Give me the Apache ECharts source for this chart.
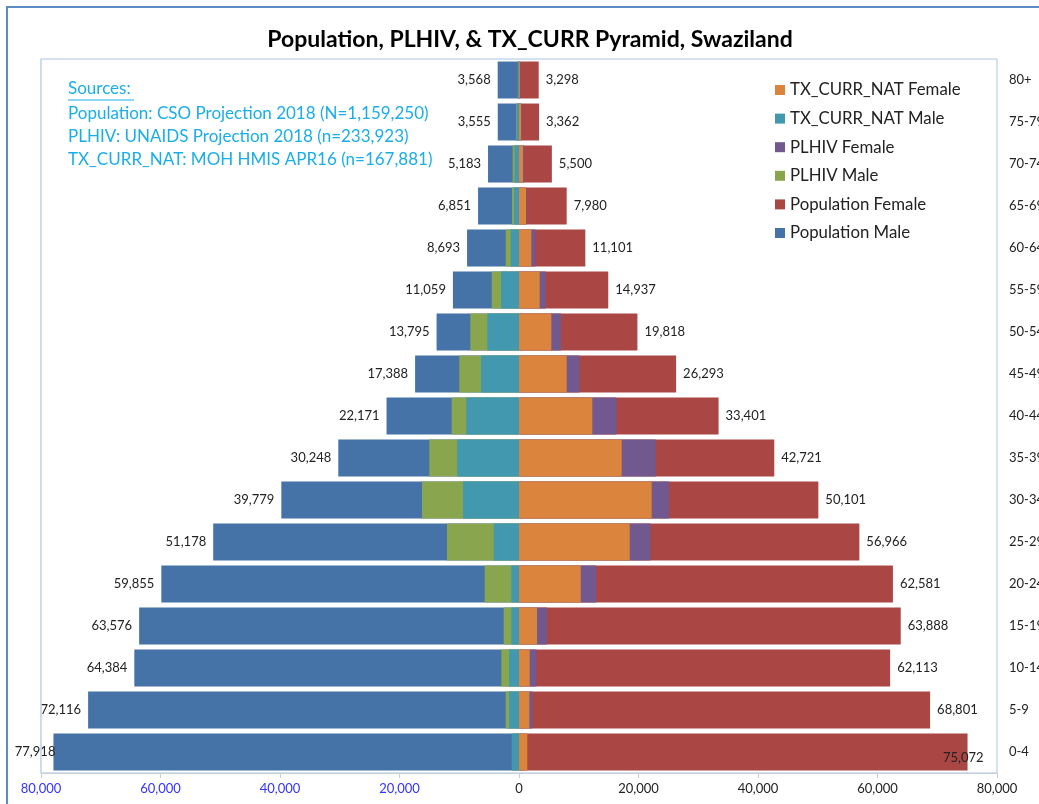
<!DOCTYPE html>
<html>
<head>
<meta charset="utf-8">
<script src="https://cdn.jsdelivr.net/npm/echarts@6/dist/echarts.min.js"></script>
<style>
  html, body { margin: 0; padding: 0; background: #fff; }
  #main { width: 1039px; height: 804px; }
</style>
</head>
<body>
<div id="main"></div>
<script>
// age groups, bottom to top
const ages = ["0-4", "5-9", "10-14", "15-19", "20-24", "25-29", "30-34", "35-39", "40-44",
  "45-49", "50-54", "55-59", "60-64", "65-69", "70-74", "75-79", "80+"];
const popMale = [77918, 72116, 64384, 63576, 59855, 51178, 39779, 30248, 22171,
  17388, 13795, 11059, 8693, 6851, 5183, 3555, 3568];
const popFemale = [75072, 68801, 62113, 63888, 62581, 56966, 50101, 42721, 33401,
  26293, 19818, 14937, 11101, 7980, 5500, 3362, 3298];
// PLHIV / TX_CURR estimated from the bars
const plhivMale = [1000, 2230, 2960, 2560, 5750, 12050, 16240, 15010, 11270,
  9990, 8150, 4570, 2230, 1170, 1070, 500, 200];
const plhivFemale = [1200, 2230, 2900, 4690, 12890, 21980, 25110, 22880, 16290,
  10090, 7030, 4460, 2735, 1280, 840, 400, 200];
const txMale = [1220, 1670, 1670, 1280, 1280, 4240, 9370, 10330, 8820,
  6360, 5300, 3010, 1390, 840, 730, 420, 150];
const txFemale = [1390, 1730, 1790, 3010, 10330, 18530, 22210, 17190, 12270,
  7980, 5410, 3460, 2065, 1170, 670, 350, 150];
const xTicks = [-80000, -60000, -40000, -20000, 0, 20000, 40000, 60000, 80000];

const FONT = "Lato";
const colors = {
  popMale: "#4572A7", popFemale: "#AA4643",
  plhivMale: "#89A54E", plhivFemale: "#71588F",
  txMale: "#4198AF", txFemale: "#DB843D"
};

const fmt = v => Math.abs(v).toLocaleString("en-US");

function barSeries(name, values, color, sign) {
  return {
    name: name,
    type: "bar",
    barWidth: "88%",
    barGap: "-100%",
    itemStyle: { color: color },
    data: values.map(v => v * sign)
  };
}

const sMale = barSeries("Population Male", popMale, colors.popMale, -1);
sMale.label = {
  show: true, position: "left", distance: 7,
  fontFamily: FONT, fontSize: 13, color: "#222",
  formatter: p => fmt(p.value)
};
// the widest bar: Excel pulls its label over the bar end
sMale.data[0] = { value: sMale.data[0], label: { distance: -2 } };

const sFemale = barSeries("Population Female", popFemale, colors.popFemale, 1);
sFemale.label = {
  show: true, position: "right", distance: 7,
  fontFamily: FONT, fontSize: 13, color: "#222",
  formatter: p => fmt(p.value)
};
sFemale.data[0] = { value: sFemale.data[0], label: { position: "insideRight", distance: 0, offset: [16, 6] } };

const chart = echarts.init(document.getElementById("main"));
chart.setOption({
  animation: false,
  color: [colors.popMale, colors.popFemale, colors.plhivMale, colors.plhivFemale, colors.txMale, colors.txFemale],
  title: {
    text: "Population, PLHIV, & TX_CURR Pyramid, Swaziland",
    left: 525, textAlign: "center", top: 23,
    textStyle: { fontFamily: FONT, fontSize: 23, fontWeight: "bold", color: "#000" }
  },
  legend: {
    orient: "vertical",
    left: 770, top: 75,
    icon: "rect",
    itemWidth: 10, itemHeight: 10, itemGap: 8.6,
    textStyle: { fontFamily: FONT, fontSize: 16.8, color: "#222", lineHeight: 20 },
    data: ["TX_CURR_NAT Female", "TX_CURR_NAT Male", "PLHIV Female", "PLHIV Male", "Population Female", "Population Male"]
  },
  grid: {
    left: 41, right: 42, top: 59, bottom: 31,
    outerBoundsMode: "none",
    containLabel: false,
    show: true, borderColor: "#A9C4E6", borderWidth: 1, backgroundColor: "transparent"
  },
  xAxis: {
    type: "value",
    min: xTicks[0], max: xTicks[xTicks.length - 1], interval: 20000,
    splitLine: { show: false },
    axisLine: { show: true, lineStyle: { color: "#C8CED6" } },
    axisTick: { show: true, length: 5, lineStyle: { color: "#C8CED6" } },
    axisLabel: {
      fontFamily: FONT, fontSize: 13, margin: 9,
      color: v => (v < 0 ? "#3333FF" : "#222"),
      formatter: v => fmt(v)
    }
  },
  yAxis: [
    {
      type: "category", data: ages, position: "right",
      axisLine: { show: false }, axisTick: { show: false },
      axisLabel: { fontFamily: FONT, fontSize: 13, color: "#222", margin: 12 }
    },
    {
      type: "category", data: ages, z: 10,
      axisLine: { show: true, onZero: true, lineStyle: { color: "#C9DAEF", width: 1.5 } },
      axisTick: { show: false }, axisLabel: { show: false }
    }
  ],
  series: [
    sMale,
    sFemale,
    barSeries("PLHIV Male", plhivMale, colors.plhivMale, -1),
    barSeries("PLHIV Female", plhivFemale, colors.plhivFemale, 1),
    barSeries("TX_CURR_NAT Male", txMale, colors.txMale, -1),
    barSeries("TX_CURR_NAT Female", txFemale, colors.txFemale, 1)
  ],
  graphic: [
    {
      type: "rect", silent: true, z: -1,
      shape: { x: 7, y: 7, width: 1200, height: 1000 },
      style: { fill: "none", stroke: "#5B8CC4", lineWidth: 2 }
    },
    {
      type: "text", left: 68, top: 80,
      style: { text: "Sources:", fontFamily: FONT, fontSize: 17, fill: "#1AAEE8" }
    },
    {
      type: "line", silent: true,
      shape: { x1: 68, y1: 100, x2: 134, y2: 100 },
      style: { stroke: "#1AAEE8", lineWidth: 1 }
    },
    {
      type: "text", left: 68, top: 102,
      style: {
        text: "Population: CSO Projection 2018 (N=1,159,250)\nPLHIV: UNAIDS Projection 2018 (n=233,923)\nTX_CURR_NAT: MOH HMIS APR16 (n=167,881)",
        fontFamily: FONT, fontSize: 17, lineHeight: 23, fill: "#1AAEE8"
      }
    }
  ]
});
</script>
</body>
</html>
